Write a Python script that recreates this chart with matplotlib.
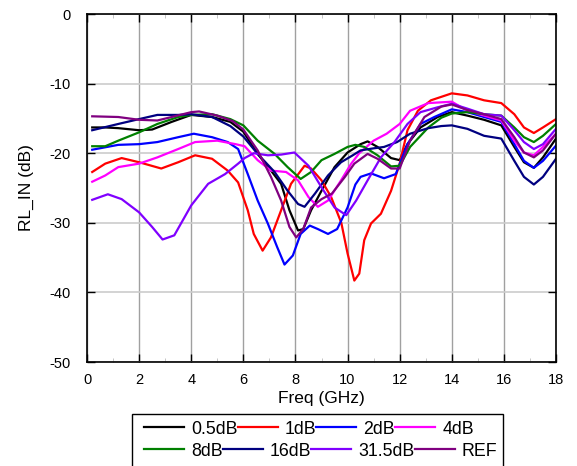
import matplotlib
matplotlib.use("Agg")
import matplotlib.pyplot as plt
from matplotlib.ticker import MultipleLocator
from matplotlib.patches import Rectangle

plt.rcParams['font.family'] = ['Liberation Sans', 'DejaVu Sans']
plt.rcParams['axes.unicode_minus'] = False

f_05 = [0.2, 0.7, 1.2, 2.0, 2.5, 3.25, 4.0, 4.8, 5.5, 6.0, 6.55, 7.06, 7.45, 7.77, 8.1, 8.3, 8.6, 9.0, 9.5, 10.0, 10.5, 10.77, 11.15, 11.67, 12.0, 12.3, 12.8, 13.46, 14.0, 14.6, 15.24, 15.9, 16.4, 16.77, 17.15, 17.5, 18.0]
v_05 = [-16.3, -16.3, -16.4, -16.7, -16.6, -15.5, -14.5, -14.8, -15.5, -16.9, -20.1, -22.5, -24.4, -28.2, -31.1, -30.9, -28.2, -25.4, -22.0, -19.9, -18.7, -18.3, -19.1, -20.7, -21.0, -18.7, -16.3, -14.8, -14.1, -14.6, -15.2, -16.0, -19.1, -21.3, -22.1, -20.6, -17.9]

f_1 = [0.2, 0.7, 1.33, 2.0, 2.85, 3.5, 4.15, 4.8, 5.4, 5.8, 6.17, 6.4, 6.74, 7.06, 7.45, 7.83, 8.35, 8.6, 9.0, 9.37, 9.76, 10.0, 10.26, 10.45, 10.64, 10.9, 11.28, 11.67, 12.0, 12.3, 12.7, 13.2, 14.0, 14.6, 15.24, 15.9, 16.4, 16.77, 17.15, 17.5, 18.0]
v_1 = [-22.7, -21.5, -20.7, -21.3, -22.2, -21.3, -20.3, -20.8, -22.5, -24.2, -28.2, -31.6, -34.0, -32.1, -28.2, -24.4, -21.8, -22.2, -23.9, -26.3, -30.0, -34.4, -38.3, -37.3, -32.5, -30.1, -28.7, -25.4, -21.5, -16.7, -13.9, -12.4, -11.4, -11.7, -12.4, -12.8, -14.4, -16.3, -17.1, -16.3, -15.1]

f_2 = [0.2, 1.2, 2.0, 2.7, 3.5, 4.1, 4.8, 5.4, 5.8, 6.17, 6.55, 6.94, 7.3, 7.58, 7.9, 8.2, 8.55, 8.86, 9.25, 9.6, 10.0, 10.3, 10.5, 10.9, 11.4, 11.85, 12.3, 12.8, 13.33, 14.0, 14.6, 15.24, 15.9, 16.4, 16.77, 17.15, 17.5, 18.0]
v_2 = [-19.5, -18.8, -18.7, -18.4, -17.7, -17.2, -17.7, -18.4, -19.4, -23.0, -26.8, -30.1, -33.5, -36.0, -34.7, -31.6, -30.4, -30.9, -31.6, -30.9, -27.8, -24.5, -23.4, -22.9, -23.6, -23.0, -18.7, -15.8, -14.8, -13.7, -14.1, -14.8, -15.5, -18.7, -21.1, -22.1, -21.1, -18.9]

f_4 = [0.2, 0.7, 1.2, 2.0, 2.7, 3.5, 4.15, 5.0, 5.7, 6.05, 6.55, 7.06, 7.64, 8.1, 8.5, 8.86, 9.25, 9.75, 10.14, 10.45, 11.0, 11.5, 12.0, 12.4, 13.1, 14.0, 14.6, 15.24, 15.9, 16.4, 16.77, 17.15, 17.5, 18.0]
v_4 = [-24.1, -23.2, -22.0, -21.5, -20.6, -19.4, -18.4, -18.2, -18.7, -19.0, -21.0, -22.5, -22.7, -23.9, -26.3, -27.7, -26.8, -23.9, -21.5, -20.0, -18.2, -17.2, -15.8, -13.9, -12.8, -12.6, -13.9, -14.6, -15.3, -18.2, -19.9, -20.3, -19.1, -17.2]

f_8 = [0.2, 0.7, 1.2, 2.0, 2.7, 3.5, 4.0, 4.8, 5.5, 6.0, 6.55, 7.2, 7.7, 8.2, 8.6, 9.0, 9.5, 10.0, 10.3, 10.64, 11.15, 11.67, 12.0, 12.4, 13.1, 13.6, 14.0, 14.6, 15.24, 15.9, 16.4, 16.77, 17.15, 17.5, 18.0]
v_8 = [-19.0, -19.0, -18.2, -17.0, -15.8, -14.8, -14.5, -14.4, -15.1, -16.0, -18.2, -20.1, -22.0, -23.7, -22.7, -21.0, -20.1, -19.1, -18.8, -19.1, -20.3, -21.9, -21.8, -19.1, -16.3, -14.9, -14.3, -14.1, -14.4, -14.6, -16.3, -17.7, -18.4, -17.5, -15.8]

f_16 = [0.2, 1.2, 2.0, 2.7, 3.5, 4.0, 4.8, 5.5, 6.0, 6.55, 7.2, 7.7, 8.1, 8.35, 8.75, 9.25, 9.75, 10.2, 10.5, 11.0, 11.4, 11.9, 12.4, 13.1, 13.6, 14.0, 14.6, 15.24, 15.9, 16.4, 16.77, 17.15, 17.5, 18.0]
v_16 = [-16.7, -15.8, -15.1, -14.5, -14.5, -14.4, -14.8, -16.1, -17.6, -20.1, -22.7, -25.4, -27.3, -27.7, -25.8, -23.2, -21.3, -20.3, -19.6, -19.3, -19.1, -18.4, -17.2, -16.4, -16.1, -16.0, -16.5, -17.5, -17.9, -21.1, -23.4, -24.5, -23.4, -20.8]

f_315 = [0.2, 0.8, 1.33, 2.0, 2.5, 2.9, 3.35, 4.0, 4.65, 5.3, 5.8, 6.05, 6.4, 6.94, 7.45, 7.96, 8.5, 9.0, 9.5, 9.95, 10.33, 10.77, 11.28, 11.8, 12.3, 12.8, 13.46, 14.0, 14.6, 15.24, 15.9, 16.4, 16.77, 17.15, 17.5, 18.0]
v_315 = [-26.7, -25.9, -26.6, -28.5, -30.6, -32.4, -31.8, -27.5, -24.4, -23.0, -21.5, -20.7, -20.0, -20.3, -20.2, -19.9, -21.8, -24.9, -27.8, -28.9, -26.8, -23.9, -20.6, -18.4, -15.8, -14.1, -13.4, -12.9, -13.6, -14.4, -14.6, -16.7, -18.4, -19.4, -18.7, -16.5]

f_ref = [0.2, 1.2, 2.0, 2.7, 3.25, 4.0, 4.3, 5.0, 5.6, 6.0, 6.55, 7.06, 7.45, 7.77, 8.03, 8.3, 8.6, 9.0, 9.4, 9.9, 10.26, 10.77, 11.15, 11.67, 12.0, 12.4, 12.95, 13.6, 14.0, 14.6, 15.24, 15.9, 16.4, 16.77, 17.15, 17.5, 18.0]
v_ref = [-14.7, -14.8, -15.2, -15.3, -14.8, -14.1, -14.0, -14.6, -15.4, -16.6, -19.6, -23.4, -26.8, -30.6, -32.1, -30.9, -27.8, -26.6, -25.8, -23.4, -21.5, -20.1, -20.8, -22.2, -22.2, -18.2, -14.8, -13.3, -13.0, -13.8, -14.4, -15.1, -17.7, -19.9, -20.6, -19.6, -17.2]

labels = ["0.5dB", "1dB", "2dB", "4dB", "8dB", "16dB", "31.5dB", "REF"]
colors = ["#000000", "#ff0000", "#0000ff", "#ff00ff", "#008000", "#000080", "#8000ff", "#800080"]
series = [(f_05, v_05), (f_1, v_1), (f_2, v_2), (f_4, v_4), (f_8, v_8),
          (f_16, v_16), (f_315, v_315), (f_ref, v_ref)]

fig = plt.figure(figsize=(5.77, 4.66), dpi=100)
ax = fig.add_axes([87/577, 1-362/466, (556-87)/577, (362-14)/466])

handles = []
for (f, v), lab, c in zip(series, labels, colors):
    h, = ax.plot(f, v, color=c, lw=1.6, label=lab, solid_joinstyle='round')
    handles.append(h)

ax.set_xlim(0, 18)
ax.set_ylim(-50, 0)
ax.xaxis.set_major_locator(MultipleLocator(2))
ax.xaxis.set_minor_locator(MultipleLocator(1))
ax.yaxis.set_major_locator(MultipleLocator(10))
ax.grid(True, axis='x', which='major', color='#a0a0a0', lw=1.0)
ax.grid(True, axis='y', which='major', color='#cccccc', lw=1.2)
ax.set_axisbelow(True)
ax.tick_params(axis='both', which='major', direction='in', length=6, width=1,
               labelsize=10.5, top=True, right=True, pad=8)
ax.tick_params(axis='y', which='major', pad=12)
ax.tick_params(axis='x', which='minor', direction='in', length=3, color='#bbbbbb', top=True)
for s in ax.spines.values():
    s.set_linewidth(1.2)
ax.set_xlabel("Freq (GHz)", fontsize=12.5, labelpad=3)
ax.set_ylabel("RL_IN (dB)", fontsize=12.5, labelpad=11)

# legend box (each row flows independently, as in the reference)
fig.patches.append(Rectangle((132/577, -0.02), (503-132)/577, 0.02 + 1-414/466,
                             transform=fig.transFigure, fill=False,
                             edgecolor='black', lw=1.0))
for row, yc in ((range(0, 4), 429), (range(4, 8), 451)):
    lg = fig.legend([handles[i] for i in row], [labels[i] for i in row],
                    loc='center left', bbox_to_anchor=(144/577, 1-yc/466), ncol=4,
                    fontsize=12.8, frameon=False, handlelength=2.25,
                    handletextpad=0.4, columnspacing=0.0, borderpad=0,
                    borderaxespad=0)

fig.savefig("out.png", dpi=100)
